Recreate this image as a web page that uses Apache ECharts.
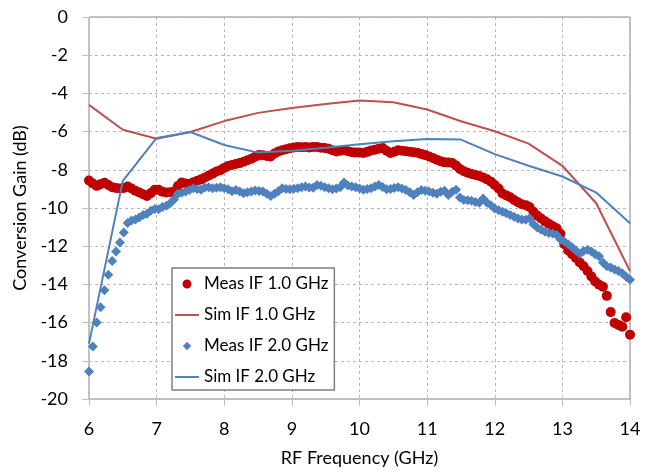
<!DOCTYPE html>
<html>
<head>
<meta charset="utf-8">
<script src="https://cdn.jsdelivr.net/npm/echarts@6/dist/echarts.min.js"></script>
<style>
html,body{margin:0;padding:0;background:#fff;}
#chart{width:656px;height:472px;}
</style>
</head>
<body>
<div id="chart"></div>
<script>
// Simulated curves (every 0.5 GHz)
const simFreq = [6, 6.5, 7, 7.5, 8, 8.5, 9, 9.5, 10, 10.5, 11, 11.5, 12, 12.5, 13, 13.5, 14];
const simIF1 = [-4.6, -5.9, -6.37, -6.02, -5.45, -5.02, -4.76, -4.56, -4.37, -4.46, -4.84, -5.46, -5.98, -6.63, -7.79, -9.75, -13.3];
const simIF2 = [-17.1, -8.58, -6.33, -6.02, -6.7, -7.1, -7.0, -6.85, -6.66, -6.51, -6.39, -6.42, -7.18, -7.79, -8.35, -9.19, -10.8];

// Measured sweep: 141 points from 6 to 14 GHz
const measStart = 6, measStop = 14;
const measIF1 = [
 -8.56,-8.72,-8.84,-8.75,-8.68,-8.80,-8.91,-8.95,-8.98,-8.95,
 -8.88,-8.98,-9.10,-9.19,-9.28,-9.37,-9.22,-9.05,-9.05,-9.15,
 -9.19,-9.17,-9.14,-8.85,-8.67,-8.72,-8.74,-8.65,-8.57,-8.50,
 -8.40,-8.30,-8.20,-8.09,-8.02,-7.90,-7.80,-7.75,-7.70,-7.65,
 -7.58,-7.50,-7.42,-7.32,-7.22,-7.24,-7.28,-7.30,-7.15,-7.04,
 -6.98,-6.92,-6.87,-6.83,-6.81,-6.82,-6.81,-6.83,-6.80,-6.81,
 -6.84,-6.86,-6.90,-6.98,-7.04,-7.00,-6.97,-7.03,-7.08,-7.09,
 -7.10,-7.12,-7.06,-6.99,-6.95,-6.90,-6.86,-7.00,-7.12,-7.05,
 -6.98,-7.00,-7.03,-7.05,-7.08,-7.11,-7.17,-7.23,-7.30,-7.38,
 -7.47,-7.55,-7.61,-7.62,-7.64,-7.78,-7.96,-8.08,-8.15,-8.22,
 -8.27,-8.32,-8.40,-8.50,-8.62,-8.80,-8.98,-9.24,-9.34,-9.44,
 -9.58,-9.70,-9.80,-9.85,-9.95,-10.20,-10.40,-10.55,-10.70,-10.82,
 -10.95,-11.06,-11.35,-11.90,-12.22,-12.42,-12.62,-12.85,-13.05,-13.30,
 -13.58,-13.85,-14.02,-14.12,-14.60,-15.45,-16.02,-16.12,-16.22,-15.72,
 -16.63
];
const measIF2 = [
 -18.56,-17.25,-16.00,-15.20,-14.30,-13.50,-12.78,-12.28,-11.80,-11.28,
 -10.78,-10.66,-10.60,-10.50,-10.37,-10.30,-10.15,-10.05,-10.07,-9.95,
 -9.88,-9.75,-9.55,-9.25,-9.20,-9.14,-9.06,-8.96,-9.00,-9.05,
 -8.93,-8.92,-8.96,-8.94,-8.91,-8.97,-9.02,-9.12,-9.06,-9.14,
 -9.23,-9.18,-9.13,-9.09,-9.11,-9.14,-9.25,-9.37,-9.25,-9.12,
 -8.97,-9.00,-9.02,-8.99,-8.96,-8.92,-8.88,-8.93,-8.94,-8.80,
 -8.84,-8.91,-8.97,-9.02,-8.98,-8.92,-8.67,-8.82,-8.88,-8.91,
 -8.98,-9.05,-9.00,-8.96,-8.88,-8.80,-8.90,-9.02,-9.00,-8.95,
 -8.91,-8.98,-9.06,-9.18,-9.32,-9.18,-9.06,-9.10,-9.14,-9.20,
 -9.26,-9.15,-9.10,-9.32,-9.15,-9.05,-9.45,-9.58,-9.60,-9.62,
 -9.68,-9.72,-9.50,-9.72,-9.85,-10.02,-10.12,-10.19,-10.28,-10.37,
 -10.46,-10.55,-10.60,-10.62,-10.54,-10.85,-11.02,-11.14,-11.24,-11.31,
 -11.33,-11.40,-11.65,-11.75,-11.90,-12.06,-12.22,-12.40,-12.25,-12.18,
 -12.28,-12.42,-12.52,-12.85,-13.05,-13.12,-13.22,-13.30,-13.42,-13.60,
 -13.75
];
const xTicks = {min: 6, max: 14, interval: 1};
const yTicks = {min: -20, max: 0, interval: 2};
const seriesNames = ['Meas IF 1.0 GHz', 'Sim IF 1.0 GHz', 'Meas IF 2.0 GHz', 'Sim IF 2.0 GHz'];

function sweep(vals) {
  const n = vals.length - 1;
  return vals.map((v, i) => [+(measStart + i * (measStop - measStart) / n).toFixed(4), v]);
}
function pairs(xs, ys) { return xs.map((x, i) => [x, ys[i]]); }

// legend icons drawn inside a 24x9 box (tiny corner specks keep the box size)
const ICON_LINE = 'path://M0,0L0.01,0L0.01,0.01Z M0,3.5L24,3.5L24,5.5L0,5.5Z M23.99,8.99L24,8.99L24,9Z';
const ICON_CIRCLE = 'path://M0,0L0.01,0L0.01,0.01Z M16.5,4.5A4.5,4.5,0,1,1,7.5,4.5A4.5,4.5,0,1,1,16.5,4.5Z M23.99,8.99L24,8.99L24,9Z';
const ICON_DIAMOND = 'path://M0,0L0.01,0L0.01,0.01Z M12,0.3L16.2,4.5L12,8.7L7.8,4.5Z M23.99,8.99L24,8.99L24,9Z';

const FONT = 'Lato';
const chart = echarts.init(document.getElementById('chart'), null, {renderer: 'canvas'});
chart.setOption({
  animation: false,
  backgroundColor: '#fff',
  textStyle: {fontFamily: FONT, color: '#000'},
  grid: {left: 89, right: 26, top: 17, bottom: 73, show: true, borderColor: '#868686', borderWidth: 1, backgroundColor: 'transparent'},
  xAxis: {
    type: 'value', min: xTicks.min, max: xTicks.max, interval: xTicks.interval,
    name: 'RF Frequency (GHz)', nameLocation: 'middle', nameGap: 50,
    nameTextStyle: {fontFamily: FONT, fontSize: 18, color: '#000'},
    axisLine: {show: true, onZero: false, lineStyle: {color: '#bfbfbf', width: 1}},
    axisTick: {show: true, inside: false, length: 7, lineStyle: {color: '#bfbfbf'}},
    axisLabel: {fontFamily: FONT, fontSize: 18, color: '#000', margin: 21},
    splitLine: {show: true, lineStyle: {color: '#b8b8b8', type: [3, 3], width: 1}}
  },
  yAxis: {
    type: 'value', min: yTicks.min, max: yTicks.max, interval: yTicks.interval,
    name: 'Conversion Gain (dB)', nameLocation: 'middle', nameGap: 46, nameRotate: 90,
    nameTextStyle: {fontFamily: FONT, fontSize: 18, color: '#000'},
    axisLine: {show: true, onZero: false, lineStyle: {color: '#bfbfbf', width: 1}},
    axisTick: {show: true, inside: false, length: 7, lineStyle: {color: '#bfbfbf'}},
    axisLabel: {fontFamily: FONT, fontSize: 18, color: '#000', margin: 21},
    splitLine: {show: true, lineStyle: {color: '#b8b8b8', type: [3, 3], width: 1}}
  },
  legend: {
    orient: 'vertical', left: 172, top: 268,
    padding: [6, 6, 3, 3],
    backgroundColor: '#fff', borderColor: '#7f7f7f', borderWidth: 1.5,
    itemWidth: 24, itemHeight: 9, itemGap: 11,
    textStyle: {fontFamily: FONT, fontSize: 17, color: '#000', lineHeight: 20},
    data: [
      {name: seriesNames[0], icon: ICON_CIRCLE, itemStyle: {color: '#C00000', opacity: 1}},
      {name: seriesNames[1], icon: ICON_LINE, itemStyle: {color: '#C0504D', opacity: 1}},
      {name: seriesNames[2], icon: ICON_DIAMOND, itemStyle: {color: '#4F81BD', opacity: 1}},
      {name: seriesNames[3], icon: ICON_LINE, itemStyle: {color: '#4F81BD', opacity: 1}}
    ]
  },
  series: [
    {name: seriesNames[0], type: 'scatter', symbol: 'circle', symbolSize: 10,
     itemStyle: {color: '#C00000', opacity: 1}, data: sweep(measIF1)},
    {name: seriesNames[1], type: 'line', symbol: 'none', showSymbol: false,
     lineStyle: {color: '#C0504D', width: 2}, itemStyle: {color: '#C0504D'}, data: pairs(simFreq, simIF1)},
    {name: seriesNames[2], type: 'scatter', symbol: 'diamond', symbolSize: 10,
     itemStyle: {color: '#4F81BD', opacity: 1}, data: sweep(measIF2)},
    {name: seriesNames[3], type: 'line', symbol: 'none', showSymbol: false,
     lineStyle: {color: '#4F81BD', width: 2}, itemStyle: {color: '#4F81BD'}, data: pairs(simFreq, simIF2)}
  ]
});
</script>
</body>
</html>
